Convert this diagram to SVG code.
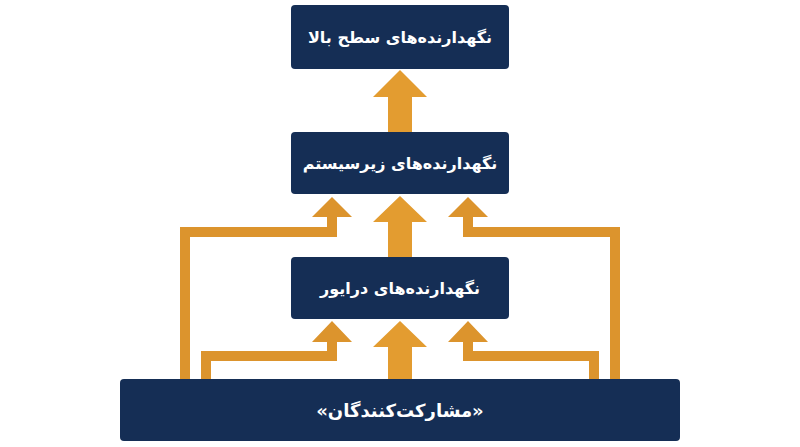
<svg xmlns="http://www.w3.org/2000/svg" width="800" height="447" viewBox="0 0 800 447">
<style>
.box{fill:#152e55}
.lbl{fill:#ffffff;font-family:"DejaVu Sans","Noto Sans",sans-serif;font-weight:bold;font-size:16px;text-anchor:middle;dominant-baseline:central}
.arr{fill:#e39c30}
.side{fill:#dc942d}
</style>
<rect width="800" height="447" fill="#ffffff"/>
<g id="connectors">
<polygon class="arr" points="388,132 388,97 373,97 400,70 427,97 412,97 412,132"/>
<polygon class="arr" points="388,257 388,222 373,222 400,196 427,222 412,222 412,257"/>
<polygon class="arr" points="388,379 388,347 373,347 400,321 427,347 412,347 412,379"/>
<polygon class="side" points="180,379 180,227 327,227 327,217 312,217 332,197 352,217 337,217 337,237 190,237 190,379"/>
<polygon class="side" points="201,379 201,351 327,351 327,342 312,342 332,321 352,342 337,342 337,361 211,361 211,379"/>
<polygon class="side" points="620,379 620,227 473,227 473,217 488,217 468,197 448,217 463,217 463,237 610,237 610,379"/>
<polygon class="side" points="599,379 599,351 473,351 473,342 488,342 468,321 448,342 463,342 463,361 589,361 589,379"/>
</g>
<g id="node-top">
<rect class="box" x="291" y="5" width="218" height="64" rx="4"/>
<text class="lbl" x="400" y="37" direction="rtl">نگهدارنده‌های سطح بالا</text>
</g>
<g id="node-subsystem">
<rect class="box" x="291" y="132" width="218" height="62" rx="4"/>
<text class="lbl" x="400" y="163" direction="rtl">نگهدارنده‌های زیرسیستم</text>
</g>
<g id="node-driver">
<rect class="box" x="291" y="257" width="218" height="62" rx="4"/>
<text class="lbl" x="400" y="288" direction="rtl">نگهدارنده‌های درایور</text>
</g>
<g id="node-contributors">
<rect class="box" x="120" y="379" width="560" height="62" rx="4"/>
<text class="lbl" x="400" y="410" direction="rtl" style="font-size:18px">«مشارکت‌کنندگان»</text>
</g>
</svg>
